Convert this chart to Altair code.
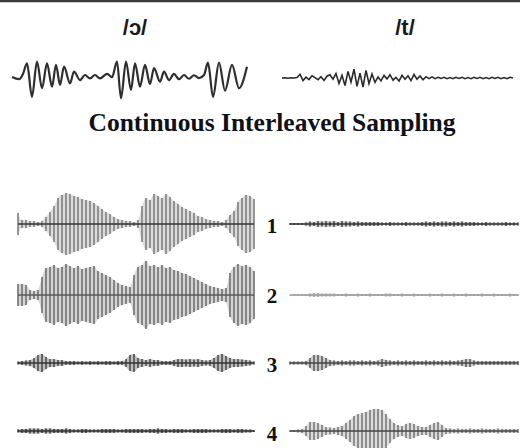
import altair as alt
import pandas as pd

# ---------------------------------------------------------------
# Acoustic waveforms (top): /ɔ/ as turning points, /t/ as samples
# ---------------------------------------------------------------
vowel_t = [0, 7, 11, 15, 20, 25, 30, 35, 40, 44, 48, 52, 58, 62, 68, 73, 78, 83,
           88, 95, 100, 105, 109, 114, 119, 123, 128, 133, 138, 142, 148, 152,
           157, 162, 167, 172, 177, 182, 187, 192, 196, 201, 207, 213, 220, 227, 235]
vowel_amp = [0.0, -0.10, 0.14, 0.62, -0.90, 0.70, -0.51, 0.62, -0.44, 0.55, -0.36,
             0.47, -0.29, 0.24, -0.14, 0.09, -0.06, 0.09, -0.06, 0.14, -0.01, 0.70,
             -0.97, 0.70, -0.59, 0.62, -0.44, 0.55, -0.32, 0.40, -0.21, 0.24, -0.14,
             0.14, -0.10, 0.09, -0.08, 0.08, -0.05, 0.09, 0.65, -0.90, 0.65, -0.62,
             0.55, -0.51, 0.47]

stop_amp = [0.0, 0.01, -0.01, 0.01, 0.0, 0.02,
            0.16, -0.12, 0.04, -0.07, 0.10, 0.02, -0.08, 0.06, -0.11, 0.08,
            0.15, -0.05, 0.20, -0.25, 0.12, -0.34, 0.30, -0.18, 0.40, -0.38,
            0.22, -0.41, 0.35, -0.26, 0.18, -0.20,
            0.05, -0.13, 0.12, -0.04, 0.15, -0.10, 0.03, -0.14, 0.12, -0.06,
            0.10, -0.12, 0.16, -0.05, 0.09, -0.08, 0.06, -0.03, 0.05,
            -0.03, 0.03, -0.02, 0.03, -0.03, 0.02, -0.03, 0.03, -0.02, 0.03,
            -0.03, 0.02, -0.03, 0.03, -0.02, 0.03, -0.03, 0.02, -0.03, 0.03,
            -0.02, 0.03, -0.03, 0.02, -0.03, 0.03, 0.0]
STOP_STEP = 3  # samples between stored /t/ points

# ---------------------------------------------------------------
# CIS pulse envelopes per channel (1-4), vowel (left) and stop (right)
# ---------------------------------------------------------------
cis_vowel = {
    1: [11, 4, 4, 3, 3, 2, 3, 7, 12, 18, 26, 29, 31, 30, 28, 27, 25, 24, 23, 21,
        18, 15, 12, 10, 7, 5, 4, 3, 3, 2, 4, 18, 26, 24, 30, 28, 26, 30, 27, 23,
        20, 17, 15, 13, 11, 8, 7, 5, 4, 3, 3, 2, 4, 9, 13, 22, 26, 29, 28, 25],
    2: [11, 11, 10, 5, 4, 5, 18, 27, 28, 30, 27, 28, 31, 29, 27, 29, 26, 27, 28, 29,
        24, 22, 20, 18, 15, 12, 10, 9, 8, 20, 28, 30, 34, 29, 30, 28, 30, 27, 28, 25,
        24, 22, 21, 19, 17, 15, 13, 11, 9, 8, 7, 6, 7, 22, 28, 31, 29, 30, 28, 24],
    3: [1.5, 2, 2.5, 3, 5, 8, 9, 6, 4, 4, 3, 3, 2, 2, 2, 1.5, 2, 1.5, 2, 1.5,
        2, 1.5, 2, 2, 1.5, 2, 2, 4, 8, 9, 5, 4, 3, 4, 3, 3, 2, 2, 2, 3,
        4, 4, 3.5, 4, 3.5, 4, 3, 2.5, 3, 5, 8, 9, 7, 5, 4, 4, 3.5, 3, 2.5, 1.5],
    4: [1.5, 2, 2, 2.5, 2.5, 2.5, 2, 2.5, 2.5, 2, 2, 2, 2.5, 2, 1.5, 1.5, 2, 2, 1.5, 1.5,
        1.5, 2, 2, 2, 2, 1.5, 1.5, 2, 2, 2, 2, 2, 1.5, 2, 2, 2.5, 2, 2, 1.5, 2,
        2, 2, 1.5, 1.5, 2, 2, 2, 2, 1.5, 1.5, 1.5, 2, 2, 2, 1.5, 2, 2, 1.5, 1.5, 1],
}
cis_stop = {
    1: [1, 1, 1, 1, 1.5, 2.5, 2, 3, 2.5, 3, 2.5, 3, 2, 3, 2.5, 2.5, 2, 2.5, 2, 2,
        2, 2, 2, 1.5, 1.5, 2, 1.5, 1.5, 1.5, 2, 1.5, 1.5, 1.5, 2, 2.5, 2, 2.5, 2,
        2.5, 2.5, 2, 2.5, 2, 2.5, 2, 2, 2, 1.5, 1.5, 2, 1.5, 1.5, 1.5, 1.5, 2, 1.5,
        1.5, 1.5],
    2: [0.5, 0.5, 0.5, 0.5, 1, 1.5, 2, 2, 1.5, 1.5, 1.5, 1.5, 1, 1, 1.5, 1, 1, 1.5,
        1, 1, 1.5, 1, 1, 1, 1.5, 1.5, 1, 1, 1.5, 1, 1, 1.5, 1, 1, 1, 1.5, 1, 1,
        1.5, 1, 1, 1.5, 1, 1, 1.5, 1, 1, 1, 1.5, 1, 1, 1.5, 1, 1, 1, 1.5, 1, 1],
    3: [1.5, 1.5, 1.5, 1.5, 2, 5, 8, 8, 7, 5, 3, 2.5, 2, 2.5, 2, 2.5, 2.5, 2, 2.5,
        2, 2.5, 2, 2.5, 4, 3, 2.5, 2, 2.5, 2, 2.5, 2, 2.5, 2, 2, 2.5, 2, 2.5, 2,
        2.5, 2, 2.5, 2, 2.5, 3, 4, 4, 2.5, 2, 2, 2, 2, 2, 2, 2, 2, 2, 2, 2],
    4: [1, 1, 1.5, 2, 5, 9, 9, 8, 6, 4, 3.5, 3, 4, 5, 8, 11, 15, 17, 18, 19, 21,
        22, 22, 21, 17, 12, 8, 6, 5, 7, 8, 7, 5, 4, 4, 6, 8, 9, 6, 3, 2.5, 2,
        2.5, 2, 2, 2.5, 2, 2, 2.5, 2, 2, 2, 2.5, 2, 2, 2, 2, 2],
}

channels = [1, 2, 3, 4]
row_centre = {1: 224, 2: 295, 3: 363, 4: 431}
label_base = {1: 233, 2: 303, 3: 372, 4: 441}
LEFT_SPAN = [18, 254]
RIGHT_SPAN = [290, 518]
HALF = 36

styles = {
    ("L", 1): ("#d8d8d8", "#858585", "#333333"),
    ("L", 2): ("#d0d0d0", "#767676", "#5a5a5a"),
    ("L", 3): ("#b8b8b8", "#555555", "#333333"),
    ("L", 4): ("#aaaaaa", "#444444", "#333333"),
    ("R", 1): ("#c8c8c8", "#555555", "#333333"),
    ("R", 2): ("#e2e2e2", "#aaaaaa", "#9a9a9a"),
    ("R", 3): ("#c8c8c8", "#666666", "#444444"),
    ("R", 4): ("#d8d8d8", "#808080", "#444444"),
}


def pulse_train(env, span, centre, fill, pulse, line):
    df = pd.DataFrame({"pulse": list(range(len(env))), "amp": env})
    df["neg"] = -df["amp"]
    df["mid"] = 0.0
    x = alt.X("pulse:Q", axis=None,
              scale=alt.Scale(domain=[0, len(env) - 1], range=span))
    yscale = alt.Scale(domain=[-HALF, HALF], range=[centre + HALF, centre - HALF])
    base = alt.Chart(df)
    haze = base.mark_area(color=fill, interpolate="monotone", opacity=0.9).encode(
        x=x, y=alt.Y("neg:Q", axis=None, scale=yscale), y2="amp:Q")
    bars = base.mark_rule(color=pulse, strokeWidth=1.7).encode(
        x=x, y=alt.Y("neg:Q", axis=None, scale=yscale), y2="amp:Q")
    baseline = base.mark_line(color=line, strokeWidth=1.5).encode(
        x=x, y=alt.Y("mid:Q", axis=None, scale=yscale))
    return alt.layer(haze, bars, baseline)


def text(s, x, y, size, font, color="#111111", weight="bold"):
    return alt.Chart(pd.DataFrame({"s": [s]})).mark_text(
        font=font, fontSize=size, fontWeight=weight, color=color,
        align="center", baseline="alphabetic").encode(
        x=alt.value(x), y=alt.value(y), text="s:N")


wave_y = alt.Scale(domain=[-1, 1], range=[99, 55])

vowel_df = pd.DataFrame({"t": vowel_t, "amp": vowel_amp})
vowel = alt.Chart(vowel_df).mark_line(
    color="#2e2e2e", strokeWidth=2.2, interpolate="monotone").encode(
    x=alt.X("t:Q", axis=None, scale=alt.Scale(domain=[0, 235], range=[12, 247])),
    y=alt.Y("amp:Q", axis=None, scale=wave_y))

stop_df = pd.DataFrame({"t": [i * STOP_STEP for i in range(len(stop_amp))],
                        "amp": stop_amp})
stop = alt.Chart(stop_df).mark_line(color="#2a2a2a", strokeWidth=1.6).encode(
    x=alt.X("t:Q", axis=None,
            scale=alt.Scale(domain=[0, (len(stop_amp) - 1) * STOP_STEP], range=[282, 513])),
    y=alt.Y("amp:Q", axis=None, scale=alt.Scale(domain=[-1, 1], range=[100, 56])))

top_rule = alt.Chart(pd.DataFrame({"k": [0]})).mark_rule(
    color="#3a3a3a", strokeWidth=2.5).encode(
    x=alt.value(0), x2=alt.value(520), y=alt.value(1))

layers = [top_rule, vowel, stop]
for ch in channels:
    layers.append(pulse_train(cis_vowel[ch], LEFT_SPAN, row_centre[ch], *styles[("L", ch)]))
    layers.append(pulse_train(cis_stop[ch], RIGHT_SPAN, row_centre[ch], *styles[("R", ch)]))
    layers.append(text(str(ch), 272, label_base[ch], 21, "Liberation Serif"))

layers.append(text("/ɔ/", 135, 35, 22, "Liberation Sans", "#1a1a1a"))
layers.append(text("/t/", 405, 35, 22, "Liberation Sans", "#1a1a1a"))
layers.append(text("Continuous Interleaved Sampling", 272, 131, 25.5,
                   "Liberation Serif", "#10101a"))

chart = alt.layer(*layers).resolve_scale(
    x="independent", y="independent"
).properties(
    width=520, height=448, padding=0,
    autosize=alt.AutoSizeParams(type="none"), background="white"
).configure_view(strokeWidth=0)

chart.save("out.html", embed_options={"renderer": "svg", "actions": False})
